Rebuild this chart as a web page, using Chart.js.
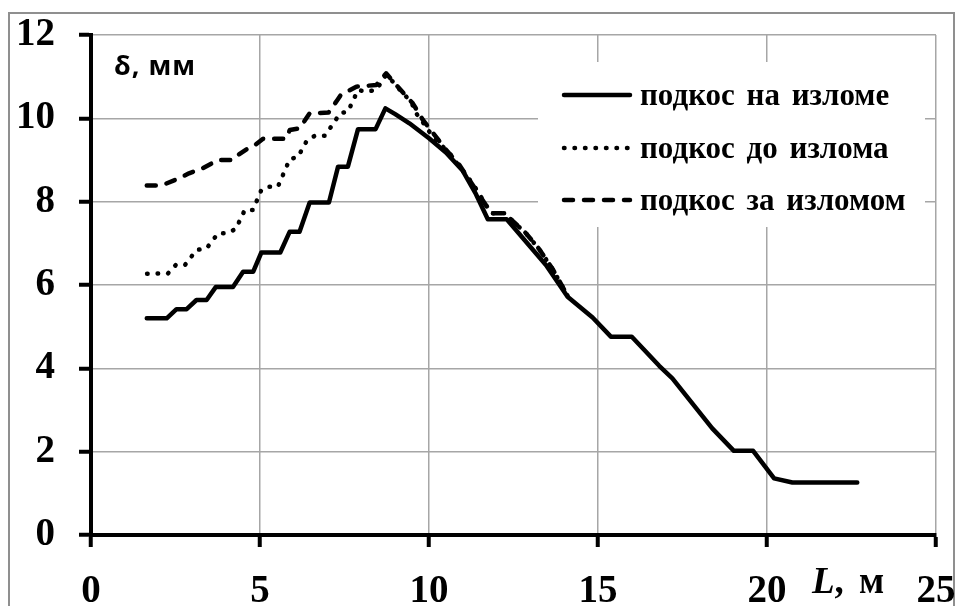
<!DOCTYPE html>
<html><head><meta charset="utf-8">
<script src="https://cdn.jsdelivr.net/npm/chart.js@4"></script>
<style>html,body{margin:0;padding:0;background:#fff;} #c{display:block;}</style>
</head><body>
<canvas id="c" width="961" height="606"></canvas>
<script>
// ---- data ----
const xTicks = [0, 5, 10, 15, 20, 25];
const yTicks = [0, 2, 4, 6, 8, 10, 12];
const seriesNames = ['подкос на изломе', 'подкос до излома', 'подкос за изломом'];
const yAxisLabel = 'δ, мм';
const xAxisLabelVar = 'L';
const xAxisLabelUnit = ', м';

const solidX = [1.65,2.24,2.53,2.83,3.12,3.42,3.69,4.20,4.50,4.80,5.04,5.60,5.88,6.17,6.47,7.04,7.31,7.60,7.90,8.42,8.71,9.00,9.42,10.00,10.50,11.00,11.39,11.74,12.30,12.87,13.46,14.10,14.84,15.38,16.00,16.81,17.20,18.38,19.02,19.59,20.21,20.75,22.67];
const solidY = [5.20,5.20,5.42,5.42,5.64,5.64,5.95,5.95,6.32,6.32,6.78,6.78,7.28,7.28,7.98,7.98,8.84,8.84,9.74,9.74,10.24,10.10,9.88,9.52,9.18,8.74,8.18,7.58,7.58,7.04,6.48,5.72,5.22,4.76,4.76,4.06,3.76,2.56,2.02,2.02,1.36,1.26,1.26];

const dottedX = [1.66,2.28,2.51,2.78,3.12,3.42,3.76,4.00,4.28,4.55,4.79,5.04,5.24,5.53,5.88,6.12,6.39,6.62,6.91,7.21,7.36,7.60,7.90,8.14,8.44,8.73,8.98,9.18,9.47,9.62,9.77,10.01,10.26,10.61,10.90,11.29,11.84,12.23,12.87,13.26,13.66,14.10];
const dottedY = [6.27,6.28,6.48,6.48,6.84,6.88,7.24,7.24,7.34,7.80,7.80,8.28,8.36,8.36,9.02,9.07,9.47,9.58,9.58,9.92,10.12,10.16,10.68,10.64,10.68,11.04,10.84,10.64,10.40,10.12,9.96,9.68,9.44,9.16,8.84,8.44,7.72,7.72,7.24,6.86,6.38,5.74];

const dashedX = [1.65,2.09,2.60,2.90,3.30,3.76,4.20,4.35,4.65,4.79,5.09,5.78,5.88,6.17,6.47,7.03,7.29,7.39,7.85,8.44,8.73,9.03,9.52,9.82,10.51,10.90,11.39,11.84,12.23,12.87,13.26,13.66,14.10];
const dashedY = [8.39,8.39,8.56,8.68,8.80,9.00,9.00,9.12,9.28,9.32,9.51,9.51,9.72,9.76,10.12,10.14,10.44,10.56,10.76,10.80,11.08,10.80,10.36,9.96,9.24,8.88,8.28,7.72,7.72,7.24,6.86,6.38,5.74];

const toPts = (xs, ys) => xs.map((x, i) => ({ x: x, y: ys[i] }));

const serif = '"Liberation Serif", "Times New Roman", serif';
const lineStyles = [
  { borderWidth: 4.5, borderDash: [], borderCapStyle: 'round' },
  { borderWidth: 4.5, borderDash: [0.5, 10], borderCapStyle: 'round' },
  { borderWidth: 4.5, borderDash: [9, 11], borderCapStyle: 'round' }
];

const annot = {
  id: 'annot',
  beforeDraw(chart) {
    const c = chart.ctx;
    c.save();
    c.strokeStyle = '#8f8f8f';
    c.lineWidth = 2;
    c.strokeRect(9, 13, 945, 700);
    c.restore();
  },
  afterDraw(chart) {
    const c = chart.ctx;
    c.save();
    // legend box (covers grid)
    c.fillStyle = '#fff';
    c.fillRect(538, 62, 387, 165);
    const rows = [95, 148, 200];
    chart.data.datasets.forEach((ds, i) => {
      c.save();
      c.strokeStyle = '#000';
      c.lineWidth = ds.borderWidth;
      c.lineCap = ds.borderCapStyle;
      c.setLineDash(ds.borderDash || []);
      c.beginPath();
      c.moveTo(564, rows[i]);
      c.lineTo(630, rows[i]);
      c.stroke();
      c.restore();
      c.fillStyle = '#000';
      c.font = 'bold 31px ' + serif;
      c.wordSpacing = '4px';
      c.textBaseline = 'middle';
      c.textAlign = 'left';
      c.fillText(ds.label, 640, rows[i] + 2);
    });
    c.wordSpacing = '0px';
    // y label
    c.fillStyle = '#000';
    c.font = 'bold 27px "Open Sans", sans-serif';
    c.letterSpacing = '1px';
    c.textBaseline = 'middle';
    c.textAlign = 'left';
    c.fillText(yAxisLabel, 114, 67);
    c.letterSpacing = '0px';
    // x label
    c.textBaseline = 'alphabetic';
    c.font = 'italic bold 37px ' + serif;
    c.fillText(xAxisLabelVar, 812, 593);
    const w = c.measureText(xAxisLabelVar).width;
    c.font = 'bold 37px ' + serif;
    c.wordSpacing = '6px';
    c.fillText(xAxisLabelUnit, 812 + w, 593);
    c.restore();
  }
};

new Chart(document.getElementById('c'), {
  type: 'scatter',
  data: {
    datasets: [
      Object.assign({ label: seriesNames[0], data: toPts(solidX, solidY) }, lineStyles[0]),
      Object.assign({ label: seriesNames[1], data: toPts(dottedX, dottedY) }, lineStyles[1]),
      Object.assign({ label: seriesNames[2], data: toPts(dashedX, dashedY) }, lineStyles[2])
    ].map(d => Object.assign(d, {
      showLine: true, borderColor: '#000', backgroundColor: '#000',
      pointRadius: 0, borderJoinStyle: 'round', tension: 0, fill: false
    }))
  },
  options: {
    responsive: false,
    animation: false,
    devicePixelRatio: 1,
    layout: { padding: { top: 35, right: 25, left: 0, bottom: 0 } },
    plugins: { legend: { display: false }, tooltip: { enabled: false } },
    scales: {
      x: {
        type: 'linear', min: 0, max: 25,
        afterBuildTicks: s => { s.ticks = xTicks.map(v => ({ value: v })); },
        afterFit: s => { s.height = 71; s.paddingLeft = 0; s.paddingRight = 0; },
        grid: { color: '#a6a6a6', lineWidth: 1.5, tickColor: '#000', tickWidth: 4, tickLength: 12 },
        border: { color: '#000', width: 4 },
        ticks: { color: '#000', padding: 22, maxRotation: 0, font: { family: serif, size: 39, weight: 'bold' } }
      },
      y: {
        type: 'linear', min: 0, max: 12,
        afterBuildTicks: s => { s.ticks = yTicks.map(v => ({ value: v })); },
        afterFit: s => { s.width = 91; s.paddingTop = 0; s.paddingBottom = 0; },
        grid: { color: '#a6a6a6', lineWidth: 1.5, tickColor: '#000', tickWidth: 4, tickLength: 12 },
        border: { color: '#000', width: 4 },
        ticks: { color: '#000', padding: 24, font: { family: serif, size: 39, weight: 'bold' } }
      }
    }
  },
  plugins: [annot]
});
</script>
</body></html>
